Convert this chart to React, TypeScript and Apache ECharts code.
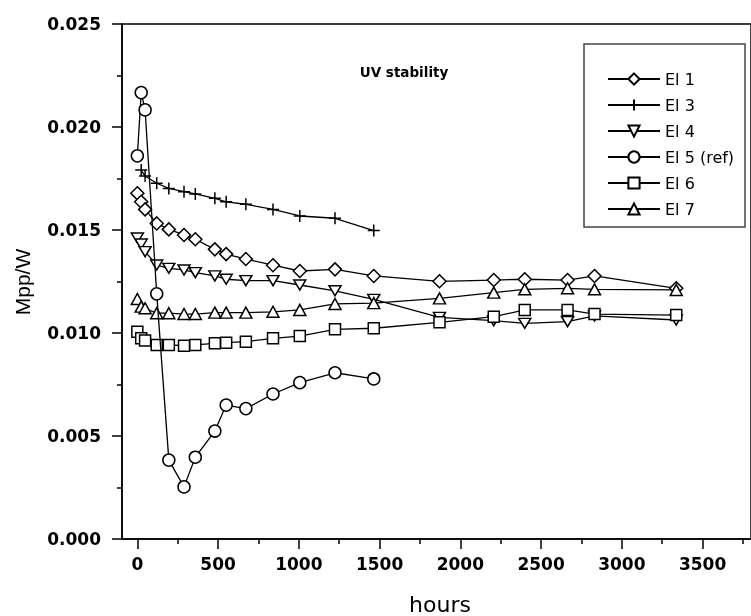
import React, { useEffect, useRef } from "react";
import * as echarts from "echarts";

const HOURS = [0, 24, 48, 120, 195, 289, 359, 480, 550, 672, 840, 1006, 1224, 1464, 1871, 2207, 2399, 2664, 2831, 3337];

const EL1 = [0.01678, 0.01637, 0.0160, 0.01532, 0.01503, 0.01476, 0.01455, 0.01406, 0.01383, 0.01359, 0.01329, 0.01301, 0.01309, 0.01277, 0.01251, 0.01257, 0.01261, 0.01257, 0.01277, 0.01217];
const EL3 = [null, 0.01791, 0.01762, 0.01727, 0.01702, 0.01686, 0.01675, 0.01654, 0.01637, 0.01625, 0.0160, 0.01568, 0.01557, 0.01497];
const EL4 = [0.01461, 0.01432, 0.01395, 0.0133, 0.01314, 0.01306, 0.01293, 0.01277, 0.01261, 0.01254, 0.01254, 0.01233, 0.01205, 0.01163, 0.01076, 0.0106, 0.01047, 0.01055, 0.01083, 0.01063];
const EL5 = [0.0186, 0.02167, 0.02083, 0.0119, 0.00383, 0.00253, 0.00397, 0.00524, 0.0065, 0.00633, 0.00704, 0.00759, 0.00807, 0.00777];
const EL6 = [0.01006, 0.00974, 0.00963, 0.00942, 0.00942, 0.00938, 0.00942, 0.0095, 0.00953, 0.00958, 0.00974, 0.00985, 0.01018, 0.01023, 0.01052, 0.01079, 0.01112, 0.01112, 0.01092, 0.01087];
const EL7 = [0.01165, 0.01128, 0.0112, 0.01096, 0.01096, 0.01092, 0.01092, 0.01099, 0.01099, 0.01099, 0.01103, 0.01112, 0.01141, 0.01145, 0.01168, 0.01196, 0.01212, 0.01217, 0.01212, 0.01209];

const NAMES = ["El 1", "El 3", "El 4", "El 5 (ref)", "El 6", "El 7"];
const X_MAJOR = [0, 500, 1000, 1500, 2000, 2500, 3000, 3500];
const X_MINOR = [250, 750, 1250, 1750, 2250, 2750, 3250, 3750];

const PLUS = "path://M0,6L12,6M6,0L6,12";
const DOWN_TRI = "path://M0,0L12,0L6,10Z";

function pairs(vals: (number | null)[]) {
  const out: number[][] = [];
  vals.forEach((v, i) => {
    if (v != null) out.push([HOURS[i], v]);
  });
  return out;
}

export default function App() {
  const ref = useRef<HTMLDivElement>(null);
  useEffect(() => {
    if (!ref.current) return;
    const chart = echarts.init(ref.current, undefined, { renderer: "svg" });
    const tickFont = { fontFamily: "DejaVu Sans", fontWeight: "bold" as const, fontSize: 17, color: "#000" };
    const mk = (name: string, vals: (number | null)[], symbol: string, size: any, z: number) => ({
      name,
      type: "line",
      data: pairs(vals),
      symbol,
      symbolSize: size,
      z,
      lineStyle: { color: "#000", width: 1.3 },
      itemStyle: { color: "#fff", borderColor: "#000", borderWidth: 1.5 },
      emphasis: { disabled: true },
      silent: true,
    });
    chart.setOption({
      animation: false,
      grid: { left: 122, top: 24, bottom: 77, right: -18, show: true, borderColor: "#000", borderWidth: 1.5 },
      xAxis: [
        {
          type: "value",
          min: -95,
          max: 3800,
          splitLine: { show: false },
          axisLine: { onZero: false, lineStyle: { color: "#000", width: 1.5 } },
          axisTick: { customValues: X_MAJOR, length: 10, lineStyle: { color: "#000", width: 1.5 } },
          axisLabel: { customValues: X_MAJOR, margin: 16, formatter: (v: number) => String(v), ...tickFont },
        },
        {
          type: "value",
          min: -95,
          max: 3800,
          position: "bottom",
          splitLine: { show: false },
          axisLine: { show: false, onZero: false },
          axisTick: { customValues: X_MINOR, length: 5, lineStyle: { color: "#000", width: 1.5 } },
          axisLabel: { show: false },
        },
      ],
      yAxis: {
        type: "value",
        min: 0,
        max: 0.025,
        interval: 0.005,
        splitLine: { show: false },
        axisLine: { show: true, onZero: false, lineStyle: { color: "#000", width: 1.5 } },
        axisTick: { show: true, length: 10, lineStyle: { color: "#000", width: 1.5 } },
        minorTick: { show: true, splitNumber: 2, length: 5, lineStyle: { color: "#000", width: 1.5 } },
        axisLabel: { margin: 21, formatter: (v: number) => v.toFixed(3), ...tickFont },
      },
      legend: {
        orient: "vertical",
        left: 602,
        top: 66,
        itemWidth: 52,
        itemHeight: 14,
        itemGap: 10,
        selectedMode: false,
        data: NAMES,
        textStyle: { fontFamily: "DejaVu Sans", fontSize: 16, color: "#000" },
      },
      graphic: [
        {
          type: "rect",
          shape: { x: 584, y: 44, width: 161, height: 183 },
          style: { fill: "none", stroke: "#444", lineWidth: 1.5 },
          z: 0,
        },
        {
          type: "text",
          x: 404,
          y: 72,
          style: { text: "UV stability", font: 'bold 13.5px "DejaVu Sans"', fill: "#000", align: "center", verticalAlign: "middle" },
        },
        {
          type: "text",
          x: 440,
          y: 604,
          style: { text: "hours", font: '22px "DejaVu Sans"', fill: "#000", align: "center", verticalAlign: "middle" },
        },
        {
          type: "text",
          x: 22,
          y: 282,
          rotation: Math.PI / 2,
          style: { text: "Mpp/W", font: '21px "Liberation Sans"', fill: "#000", align: "center", verticalAlign: "middle" },
        },
      ],
      series: [
        mk(NAMES[0], EL1, "diamond", 13, 2),
        mk(NAMES[1], EL3, PLUS, 12, 2),
        mk(NAMES[2], EL4, DOWN_TRI, [12, 10], 2),
        mk(NAMES[3], EL5, "circle", 12, 3),
        mk(NAMES[4], EL6, "rect", 11, 2),
        mk(NAMES[5], EL7, "triangle", [12, 11], 2),
      ],
    });
    return () => chart.dispose();
  }, []);
  return <div ref={ref} style={{ position: "fixed", left: 0, top: 0, width: 751, height: 616 }} />;
}
